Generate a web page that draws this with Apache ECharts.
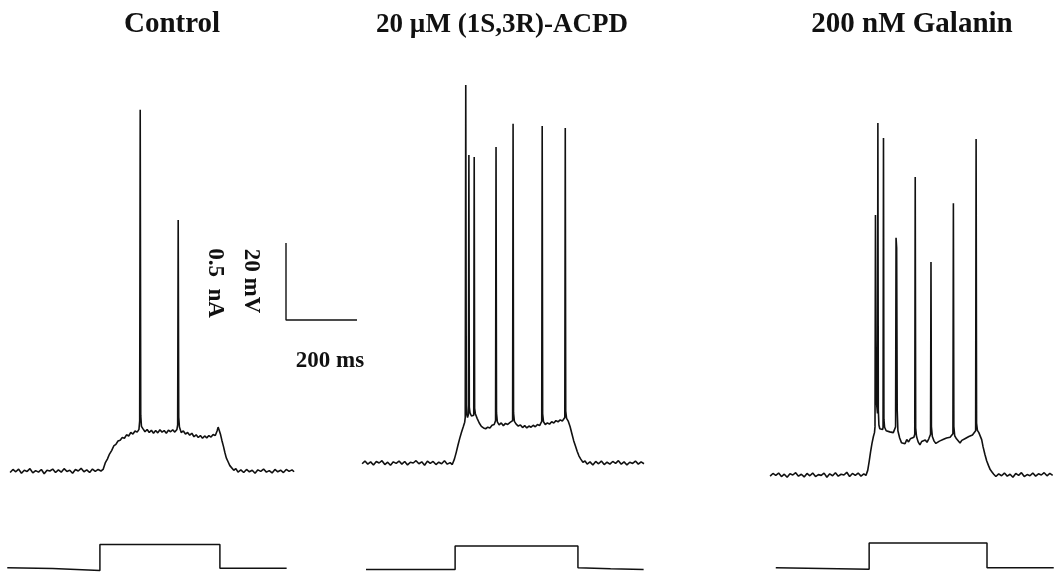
<!DOCTYPE html>
<html>
<head>
<meta charset="utf-8">
<script src="https://cdn.jsdelivr.net/npm/echarts@6/dist/echarts.min.js"></script>
<style>
  html, body { margin: 0; padding: 0; background: #fff; }
  #chart { width: 1062px; height: 582px; }
</style>
</head>
<body>
<div id="chart"></div>
<script>
const panelTitles = ['Control', '20 \u00b5M (1S,3R)-ACPD', '200 nM Galanin']

// membrane potential, [ms, mV]
const controlTrace = [
  [0, -65.4], [8, -64.6], [16, -65.2], [24, -64.5], [32, -65.6], [40, -64.8], [48, -65.1], [56, -64.4],
  [64, -65.5], [72, -64.9], [80, -65.3], [88, -64.6], [96, -65.7], [104, -64.8], [112, -65.0], [120, -64.5],
  [128, -65.4], [136, -64.7], [144, -65.3], [152, -64.4], [160, -65.1], [168, -64.8], [176, -65.6], [184, -64.6],
  [192, -65.0], [200, -64.3], [208, -65.2], [216, -64.7], [224, -65.4], [232, -64.5], [240, -65.1], [248, -64.6],
  [256, -65.0], [262, -64.6], [268, -62.9], [274, -61.9], [280, -60.6], [286, -59.7], [292, -58.5], [298, -58.1],
  [304, -57.2], [310, -57.0], [316, -56.3], [322, -56.5], [328, -55.6], [334, -55.9], [340, -55.0], [346, -55.4],
  [352, -54.6], [358, -54.9], [363, -54.2], [365, -52], [366.5, 28.8], [368, -50.5], [370, -53.4], [374, -54.0],
  [380, -54.8], [386, -54.2], [392, -55.0], [398, -54.4], [404, -55.2], [410, -54.5], [416, -55.1], [422, -54.3],
  [428, -54.9], [434, -54.5], [440, -55.2], [446, -54.4], [452, -54.8], [458, -54.3], [464, -54.9], [470, -54.2],
  [472, -53], [473.5, 0.2], [475, -51], [477, -53.6], [482, -55.0], [488, -54.6], [494, -55.4], [500, -55.0],
  [506, -55.7], [512, -55.2], [518, -56.1], [524, -55.6], [530, -56.3], [536, -55.8], [542, -56.5], [548, -55.9],
  [554, -56.4], [560, -55.8], [566, -56.2], [572, -55.5], [578, -55.8], [583, -54.6], [586, -53.6], [589, -54.4],
  [593, -55.6], [597, -57.2], [601, -58.6], [605, -60.2], [609, -61.6], [614, -62.6], [619, -63.6], [624, -64.1],
  [630, -64.8], [636, -64.4], [642, -65.3], [650, -64.7], [658, -65.4], [666, -64.6], [674, -65.2], [682, -64.8],
  [690, -65.6], [698, -64.7], [706, -65.1], [714, -64.5], [722, -65.3], [730, -64.9], [738, -65.5], [746, -64.6],
  [754, -65.2], [762, -64.8], [770, -65.4], [778, -64.6], [786, -65.1], [794, -64.7], [800, -65.2]
]

const acpdTrace = [
  [0, -65.2], [8, -64.5], [16, -65.3], [24, -64.7], [32, -65.5], [40, -64.6], [48, -65.0], [56, -64.4],
  [64, -65.4], [72, -64.8], [80, -65.6], [88, -64.7], [96, -65.1], [104, -64.5], [112, -65.3], [120, -64.6],
  [128, -65.5], [136, -64.8], [144, -65.0], [152, -64.4], [160, -65.2], [168, -64.7], [176, -65.6], [184, -64.5],
  [192, -65.1], [200, -64.6], [208, -65.4], [216, -64.8], [224, -65.2], [232, -64.4], [240, -65.3], [248, -64.9],
  [254, -65.4], [260, -64.0], [265, -62.3], [270, -60.4], [275, -58.6], [280, -57.0], [285, -55.6], [289, -54.4],
  [290.5, -53.2], [292, 33.2], [293.5, -50], [295, -52.5], [297, -53.2], [299.5, -52.4], [300.8, 15.0], [302, -50.5],
  [304, -52.0], [308, -52.8], [312, -53.0], [314.5, -52.6], [315.8, 14.5], [317, -50.8], [319, -52.2], [324, -53.4],
  [330, -54.6], [336, -55.5], [342, -55.9], [348, -56.1], [354, -55.7], [360, -55.9], [366, -55.2], [372, -55.0],
  [376, -54.0], [377.3, 17.1], [378.6, -52.0], [381, -54.3], [386, -55.1], [392, -54.6], [398, -55.3], [404, -54.7],
  [410, -55.0], [416, -54.5], [421, -54.8], [424, -54.0], [425.3, 23.1], [426.6, -52.0], [429, -54.2], [434, -54.9],
  [440, -55.4], [446, -55.1], [452, -55.8], [458, -55.3], [464, -55.9], [470, -55.4], [476, -55.7], [482, -55.2],
  [488, -55.6], [494, -55.0], [500, -55.3], [504, -54.8], [506, -54.2], [507.3, 22.5], [508.6, -52.2], [511, -54.3],
  [516, -55.0], [522, -54.6], [528, -54.9], [534, -54.3], [540, -54.6], [546, -54.0], [552, -54.3], [558, -53.8],
  [564, -54.1], [569, -53.6], [571, -53.2], [572.3, 22.0], [573.6, -51.5], [576, -53.4], [581, -54.2], [586, -55.6],
  [591, -57.4], [596, -59.2], [601, -60.6], [606, -62.0], [611, -63.2], [616, -64.0], [622, -64.8], [628, -64.5],
  [634, -65.3], [642, -64.7], [650, -65.5], [658, -64.6], [666, -65.2], [674, -64.5], [682, -65.4], [690, -64.8],
  [698, -65.3], [706, -64.6], [714, -65.1], [722, -64.4], [730, -65.3], [738, -64.7], [746, -65.5], [754, -64.8],
  [762, -65.1], [770, -64.5], [778, -65.3], [786, -64.7], [794, -65.2]
]

const galaninTrace = [
  [0, -65.3], [8, -64.6], [16, -65.1], [24, -64.5], [32, -65.4], [40, -64.8], [48, -65.6], [56, -64.7],
  [64, -65.0], [72, -64.4], [80, -65.3], [88, -64.8], [96, -65.5], [104, -64.6], [112, -65.2], [120, -64.5],
  [128, -65.4], [136, -64.9], [144, -65.1], [152, -64.5], [160, -65.6], [168, -64.7], [176, -65.2], [184, -64.4],
  [192, -65.3], [200, -64.8], [208, -65.0], [216, -64.3], [224, -65.4], [232, -64.6], [240, -65.1], [248, -64.5],
  [256, -65.3], [264, -64.7], [270, -65.1], [275, -63.8], [279, -61.5], [283, -59.0], [287, -56.8], [291, -55.0],
  [294, -54.0], [295.5, -52.5], [296.8, 2.5], [298, -30], [299.5, -46], [302.5, -49], [303.6, 26.4], [304.8, -48],
  [306.5, -52.0], [309, -53.0], [313, -53.5], [317, -53.2], [318.2, -52.6], [319.4, 22.5], [320.6, -50.5], [322.5, -52.6],
  [327, -53.5], [332, -53.0], [337, -53.8], [342, -53.4], [347, -54.0], [351, -53.6], [353.5, -52.5], [354.8, -3.4],
  [356.5, -6.0], [358, -48], [360, -53.5], [365, -55.4], [370, -56.6], [375, -56.2], [380, -56.9], [385, -55.8],
  [390, -56.4], [395, -55.6], [400, -55.9], [405, -55.2], [407.5, -54.4], [408.8, 12.4], [410.1, -52.8], [412.5, -55.0],
  [417, -56.4], [422, -57.2], [427, -56.3], [432, -56.8], [437, -55.9], [442, -56.5], [447, -55.6], [450.5, -55.2],
  [452, -54.4], [453.2, -9.7], [454.4, -52.4], [457, -55.0], [462, -56.2], [467, -56.8], [472, -57.0], [477, -56.2],
  [482, -56.7], [487, -55.8], [492, -56.1], [497, -55.4], [502, -55.9], [507, -55.2], [512, -55.5], [515, -54.3],
  [516.3, 5.6], [517.6, -52.4], [520, -54.8], [525, -55.6], [530, -56.1], [535, -56.7], [540, -56.0], [545, -56.3],
  [550, -55.5], [555, -55.8], [560, -55.0], [565, -55.3], [570, -54.6], [575, -54.2], [579, -53.5], [580.3, 22.3],
  [581.6, -51.5], [584, -53.4], [588, -54.0], [592, -54.2], [596, -55.8], [600, -57.7], [605, -59.6], [610, -61.3],
  [615, -62.5], [620, -63.6], [625, -64.2], [630, -64.8], [636, -65.4], [644, -64.7], [652, -65.2], [660, -64.5],
  [668, -65.3], [676, -64.8], [684, -65.6], [692, -64.6], [700, -65.1], [708, -64.4], [716, -65.4], [724, -64.9],
  [732, -65.2], [740, -64.5], [748, -65.3], [756, -64.7], [764, -65.0], [772, -64.4], [780, -65.2], [788, -64.6],
  [796, -65.1]
]

// injected current steps, [ms, nA]
const controlStep = [[-8, 0.01], [120, 0.004], [253, -0.012], [253, 0.188], [591, 0.188], [591, 0.006], [779, 0.006]]
const acpdStep = [[11, 0], [262, 0], [262, 0.186], [608, 0.186], [608, 0.014], [700, 0.006], [793, 0]]
const galaninStep = [[16, 0.005], [279, -0.006], [279, 0.188], [611, 0.188], [611, 0.005], [799, 0.005]]

// scale bar: 200 ms by 20 mV (0.5 nA)
const scaleBar = [[0, 20], [0, 0], [200, 0]]

const voltTraces = [controlTrace, acpdTrace, galaninTrace]
const stepTraces = [controlStep, acpdStep, galaninStep]

const pxPerMs = 0.355
const pxPerMv = 3.85
const pxPerNa = 154
const panelLeft = [3, 355, 763]
const voltBase = [471, 463, 475]   // pixel row of -65 mV
const stepBase = [576, 578, 574]   // pixel row of 0 nA

const tMin = -20, tMax = 800
const vMin = -80, vMax = 40
const iMin = -0.1, iMax = 0.3

const grids = [], xAxes = [], yAxes = [], series = []

function addPanel(left, top, width, height, x0, x1, y0, y1, data, lw) {
  const idx = grids.length
  grids.push({ left, top, width, height })
  xAxes.push({ type: 'value', gridIndex: idx, min: x0, max: x1, show: false })
  yAxes.push({ type: 'value', gridIndex: idx, min: y0, max: y1, show: false })
  series.push({
    type: 'line',
    xAxisIndex: idx,
    yAxisIndex: idx,
    data,
    showSymbol: false,
    symbol: 'none',
    clip: false,
    lineStyle: { color: '#111', width: lw },
    silent: true
  })
}

const w = (tMax - tMin) * pxPerMs
for (let i = 0; i < 3; i++) {
  addPanel(panelLeft[i], voltBase[i] - (vMax + 65) * pxPerMv, w, (vMax - vMin) * pxPerMv,
    tMin, tMax, vMin, vMax, voltTraces[i], 1.6)
  addPanel(panelLeft[i], stepBase[i] - iMax * pxPerNa, w, (iMax - iMin) * pxPerNa,
    tMin, tMax, iMin, iMax, stepTraces[i], 1.5)
}
addPanel(286, 243, 200 * pxPerMs, 20 * pxPerMv, 0, 200, 0, 20, scaleBar, 1.4)

const serif = '"Liberation Serif", "Times New Roman", serif'
const titleX = [172, 502, 912]
const titleSize = [29, 27, 29]

const graphics = panelTitles.map((t, i) => ({
  type: 'text',
  x: titleX[i],
  y: 25,
  style: { text: t, font: 'bold ' + titleSize[i] + 'px ' + serif, fill: '#111', align: 'center', verticalAlign: 'middle' }
}))
graphics.push(
  { type: 'text', x: 251, y: 281, rotation: -Math.PI / 2,
    style: { text: '20 mV', font: 'bold 23px ' + serif, fill: '#111', align: 'center', verticalAlign: 'middle' } },
  { type: 'text', x: 215, y: 283, rotation: -Math.PI / 2,
    style: { text: '0.5  nA', font: 'bold 23px ' + serif, fill: '#111', align: 'center', verticalAlign: 'middle' } },
  { type: 'text', x: 330, y: 361,
    style: { text: '200 ms', font: 'bold 23px ' + serif, fill: '#111', align: 'center', verticalAlign: 'middle' } }
)

const chart = echarts.init(document.getElementById('chart'))
chart.setOption({
  animation: false,
  backgroundColor: '#fff',
  grid: grids,
  xAxis: xAxes,
  yAxis: yAxes,
  series,
  graphic: graphics
})
window.addEventListener('resize', () => chart.resize())
</script>
</body>
</html>
